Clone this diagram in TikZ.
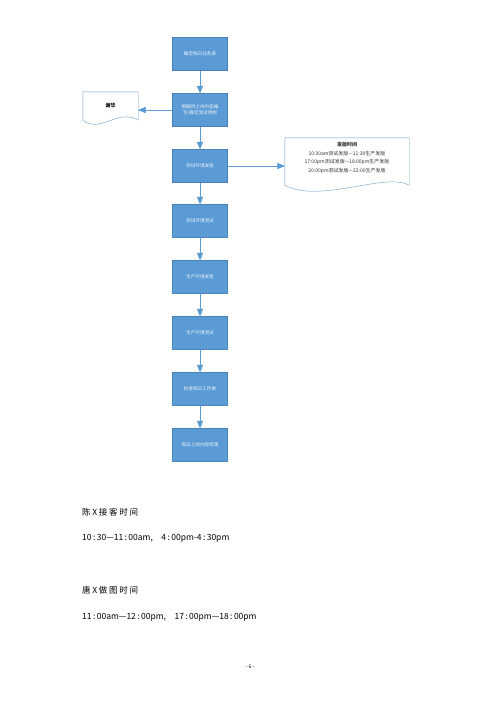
\documentclass[tikz,border=0pt]{standalone}
\usepackage{fontspec}
\setmainfont{Noto Sans CJK SC}
\newfontfamily\spaced[LetterSpace=20]{Noto Sans CJK SC}
\usetikzlibrary{arrows}
\definecolor{boxblue}{HTML}{5B9BD5}
\definecolor{boxline}{HTML}{4A82B8}
\newcommand{\cln}{\,:\,}
\begin{document}
\begin{tikzpicture}[x=1pt,y=-1pt,>=triangle 45]
            \useasboundingbox (0,0) rectangle (500,707);
            \tikzstyle{stepbox} = [rectangle,fill=boxblue,draw=boxline,line width=0.4pt,minimum width=55pt,minimum height=33pt,text=white!88!boxblue,font=\fontsize{4.6}{6}\selectfont,align=center,inner sep=1pt];
            \tikzstyle{flow} = [draw=boxblue,line width=0.7pt,->];
            \tikzstyle{paper} = [draw=boxline!80,line width=0.4pt,fill=white];
            \tikzstyle{plain} = [anchor=west,inner sep=0pt];
            \node[stepbox] (plan) at (200, 54) {确定每日任务表};
            \node[stepbox] (cases) at (200, 110) {根据待上线内容编\\写/确定测试用例};
            \node[stepbox] (testrel) at (200, 166) {测试环境发版};
            \node[stepbox] (testchk) at (200, 221) {测试环境测试};
            \node[stepbox] (prodrel) at (200, 277) {生产环境发版};
            \node[stepbox] (prodchk) at (200, 333) {生产环境测试};
            \node[stepbox] (sheet) at (200, 389) {检查每日工作单};
            \node[stepbox] (sort) at (200, 445) {每日上线内容梳理};
            \node[minimum width=55pt,minimum height=28pt,inner sep=0pt] (person) at (110.5, 106) {};
            \draw[paper] (person.south east) .. controls (118,108) and (100,134) .. (person.south west) -- (person.north west) -- (person.north east) -- cycle;
            \node[font=\fontsize{5}{6}\bfseries\selectfont] (name) at (person) {谢华};
            \node[minimum width=124pt,minimum height=47pt,inner sep=0pt] (times) at (347, 161.5) {};
            \draw[paper] (times.south east) .. controls (385,172) and (320,204) .. (times.south west) -- (times.north west) -- (times.north east) -- cycle;
            \node[font=\fontsize{5}{8.7}\selectfont,align=center,text=black!80] (timetext) at (347, 158) {\textbf{发版时间}\\10:30am测试发版—11:30生产发版\\17:00pm测试发版—18:00pm生产发版\\20:00pm测试发版—22:00生产发版};
            \draw (plan) edge[flow] (cases);
            \draw (cases) edge[flow] (testrel);
            \draw (testrel) edge[flow] (testchk);
            \draw (testchk) edge[flow] (prodrel);
            \draw (prodrel) edge[flow] (prodchk);
            \draw (prodchk) edge[flow] (sheet);
            \draw (sheet) edge[flow] (sort);
            \draw[flow] (cases.west) -- (cases.west -| person.east);
            \draw[flow] (testrel.east) -- (testrel.east -| times.west);
            \node[plain,font=\fontsize{8.5}{10}\spaced] (chen) at (82, 512) {陈X接客时间};
            \node[plain,font=\fontsize{8.5}{10}\selectfont] (chentime) at (82, 538) {10\cln30—11\cln00am,\quad 4\cln00pm-4\cln30pm};
            \node[plain,font=\fontsize{8.5}{10}\spaced] (tang) at (82, 590) {唐X做图时间};
            \node[plain,font=\fontsize{8.5}{10}\selectfont] (tangtime) at (82, 617) {11\cln00am—12\cln00pm,\quad 17\cln00pm—18\cln00pm};
            \node[font=\fontsize{5}{6}\selectfont] (page) at (250, 667) {- 6 -};
        \end{tikzpicture}
\end{document}
